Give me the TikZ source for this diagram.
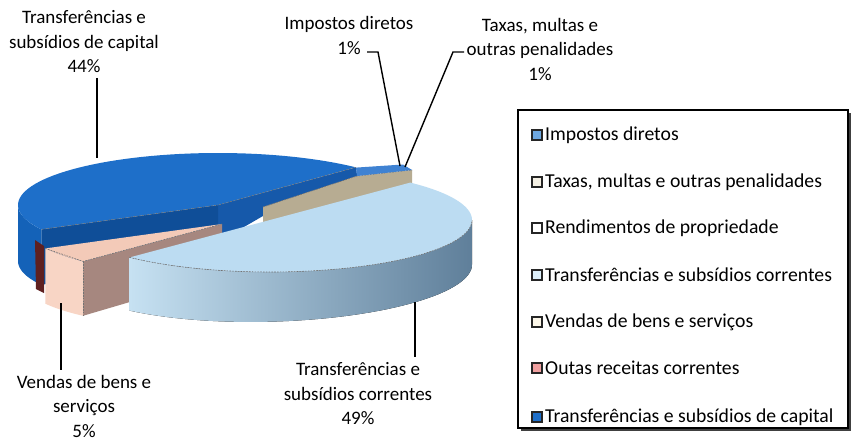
\documentclass[tikz,border=0pt]{standalone}
\usepackage{fontspec}
\setmainfont{Carlito}
\definecolor{captop}{HTML}{1E6FC9}
\definecolor{capside}{HTML}{1462B8}
\definecolor{capcut}{HTML}{0F4E98}
\definecolor{capcutb}{HTML}{1659AA}
\definecolor{imptop}{HTML}{3F82D2}
\definecolor{taxcut}{HTML}{B7AC92}
\definecolor{pinktop}{HTML}{F3CAB8}
\definecolor{pinkfront}{HTML}{F8D5C5}
\definecolor{pinkcut}{HTML}{A6877F}
\definecolor{maroon}{HTML}{5E2020}
\definecolor{ltop}{HTML}{BCDCF2}
\definecolor{lsideA}{HTML}{C6E1F2}
\definecolor{lsideB}{HTML}{A9C7DC}
\definecolor{lsideC}{HTML}{5F7F9A}
\definecolor{sqimp}{HTML}{6FA8E0}
\definecolor{sqtax}{HTML}{F4F0E4}
\definecolor{sqren}{HTML}{FFFFFF}
\definecolor{sqcor}{HTML}{DDEFFA}
\definecolor{sqven}{HTML}{FBF6E8}
\definecolor{sqout}{HTML}{F0A0A0}
\definecolor{sqcap}{HTML}{1E6FC9}
\begin{document}
\begin{tikzpicture}[x=1pt,y=-1pt,
  declare function={dep(\u)=56-(\u-18)*0.025;},
  lbl/.style={align=center, font=\fontsize{19}{24.5}\selectfont, inner sep=0pt},
  leg/.style={anchor=west, font=\fontsize{19.7}{23}\selectfont, inner sep=0pt},
  legsq/.style={draw=black!85, line width=1.1pt},
  leader/.style={draw=black, line width=1.4pt},
  edgeline/.style={draw=black!55, line width=0.6pt, dash pattern=on 1.6pt off 1.2pt}]
\useasboundingbox (0,0) rectangle (853,441);
\fill[white] (0,0) rectangle (853,441);

% ---------- capital slice (44%) ----------
\fill[capcutb] (218,205) -- (356,167.3) -- (358,182) -- (263,216) -- (218,242) -- cycle;
\fill[capcut] (218,205) -- (41.4,229.4) -- (41.4,{229.4+dep(41.4)}) -- (218,{205+dep(218)}) -- cycle;
\fill[capside] plot[domain=180:208,samples=20,variable=\t] ({218+200*cos(\t)},{205-52*sin(\t)})
  -- plot[domain=208:180,samples=20,variable=\t] ({218+200*cos(\t)},{205-52*sin(\t)+dep(218+200*cos(\t))}) -- cycle;
\fill[captop] (218,205) -- plot[domain=46.5:208,samples=60,variable=\t] ({218+200*cos(\t)},{205-52*sin(\t)}) -- cycle;
\draw[edgeline] (356,167.3) -- (218,205) -- (41.4,229.4);

% ---------- taxas (1%) ----------
\fill[taxcut] (263,207) -- (357,176) -- (412,170) -- (412,188) -- (263,236) -- cycle;
\draw[edgeline] (263,207) -- (357,176) -- (412,170);

% ---------- impostos diretos (1%) ----------
\fill[imptop] (356,167.6) -- (403,164.5) -- (412,170) -- (357,176) -- cycle;

% ---------- vendas (5%) ----------
\fill[maroon] (35,240) -- (44,246) -- (44,293) -- (36,289) -- cycle;
\fill[pinkcut] (222,224) -- (83.1,261.4) -- (83.1,{261.4+dep(83.1)}) -- (222,{224+dep(222)}) -- cycle;
\fill[pinkfront] plot[domain=208:226,samples=10,variable=\t] ({222+200*cos(\t)},{224-52*sin(\t)})
  -- plot[domain=226:208,samples=10,variable=\t] ({222+200*cos(\t)},{224-52*sin(\t)+dep(222+200*cos(\t))}) -- cycle;
\fill[pinktop] (222,224) -- plot[domain=208:226,samples=10,variable=\t] ({222+200*cos(\t)},{224-52*sin(\t)}) -- cycle;
\draw[edgeline] (45.4,248.4) -- (83.1,261.4) -- (222,224);
\draw[edgeline] (83.1,261.4) -- (83.1,{261.4+dep(83.1)});

% ---------- transferencias correntes (49%) ----------
\fill[left color=lsideA, middle color=lsideB, right color=lsideC]
  plot[domain=-134:0,samples=50,variable=\t] ({270+202*cos(\t)},{220-52*sin(\t)})
  -- plot[domain=0:-134,samples=50,variable=\t] ({270+202*cos(\t)},{220-52*sin(\t)+dep(270+202*cos(\t))}) -- cycle;
\fill[ltop] (270,220) -- plot[domain=-134:46,samples=80,variable=\t] ({270+202*cos(\t)},{220-52*sin(\t)}) -- cycle;
\draw[edgeline] plot[domain=-134:0,samples=50,variable=\t] ({270+202*cos(\t)},{220-52*sin(\t)});

% ---------- labels ----------
\node[lbl] (caplbl) at (84,42) {Transferências e\\subsídios de capital\\44\%};
\node[lbl] (implbl) at (349,35.5) {Impostos diretos\\1\%};
\node[lbl] (taxlbl) at (540,49) {Taxas, multas e\\outras penalidades\\1\%};
\node[lbl] (corlbl) at (358,394) {Transferências e\\subsídios correntes\\49\%};
\node[lbl] (venlbl) at (84,406) {Vendas de bens e\\serviços\\5\%};

\coordinate (capa) at (97,78);
\coordinate (captip) at (97,158);
\coordinate (impa) at (367,52);
\coordinate (impb) at (378,52);
\coordinate (imptip) at (400,166);
\coordinate (taxa) at (464,52);
\coordinate (taxb) at (453,52);
\coordinate (taxtip) at (405,167);
\coordinate (cortip) at (415,302);
\coordinate (cora) at (415,357);
\coordinate (ventip) at (61,303);
\coordinate (vena) at (61,370);

\draw[leader] (capa) -- (captip);
\draw[leader] (impa) -- (impb) -- (imptip);
\draw[leader] (taxa) -- (taxb) -- (taxtip);
\draw[leader] (cortip) -- (cora);
\draw[leader] (ventip) -- (vena);

% ---------- legend ----------
\fill[black!75] (521,113) rectangle (851,431);
\draw[fill=white, line width=1.2pt] (518,110) rectangle (848,428);
\foreach \yy/\cc/\tt [count=\i] in {
  135/sqimp/Impostos diretos,
  182/sqtax/{Taxas, multas e outras penalidades},
  228/sqren/Rendimentos de propriedade,
  275/sqcor/Transferências e subsídios correntes,
  322/sqven/Vendas de bens e serviços,
  368/sqout/Outas receitas correntes,
  417/sqcap/Transferências e subsídios de capital} {
  \draw[legsq, fill=\cc] (532,\yy-5) rectangle (542,\yy+5);
  \node[leg] (leg\i) at (545,\yy) {\tt};
}
\end{tikzpicture}
\end{document}
